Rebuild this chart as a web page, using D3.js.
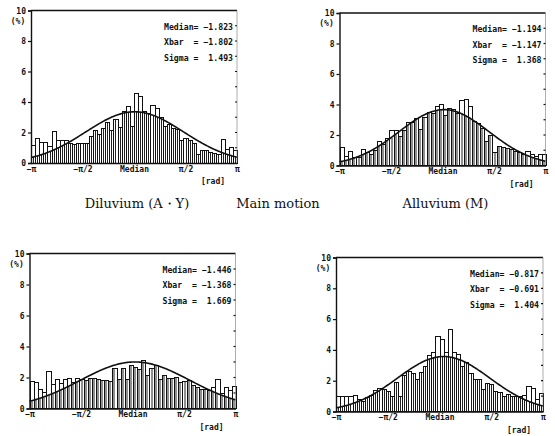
<!DOCTYPE html>
<html>
<head>
<meta charset="utf-8">
<script src="https://cdn.jsdelivr.net/npm/d3@7"></script>
<style>
  html, body { margin: 0; padding: 0; background: #fff; }
  svg { display: block; }
  .tick-label { font-family: "DejaVu Sans Mono", monospace; font-weight: bold; font-size: 8px; fill: #111; }
  .stat { font-family: "DejaVu Sans Mono", monospace; font-weight: bold; font-size: 8.2px; fill: #111; }
  .caption { font-family: "DejaVu Serif", serif; font-size: 13px; fill: #111; }
</style>
</head>
<body>
<svg id="chart" width="555" height="436"></svg>
<script>
// Angular deviation histograms: percentage of samples per bin, 50 bins from -π to π about the median.
const xTickLabels = ["\u2212\u03c0", "\u2212\u03c0/2", "Median", "\u03c0/2", "\u03c0"];
const xTickValues = [-Math.PI, -Math.PI / 2, 0, Math.PI / 2, Math.PI];
const yTickValues = [0, 2, 4, 6, 8, 10];

const diluviumAY = [1.15, 1.6, 1.35, 1.35, 1.1, 2.05, 1.5, 1.45, 1.45, 1.3,
                    1.2, 1.3, 1.3, 1.3, 1.75, 2.15, 1.9, 2.25, 2.65, 2.15,
                    2.85, 2.3, 3.4, 3.7, 2.4, 4.55, 4.35, 3.35, 3.25, 3.8,
                    3.55, 3.0, 2.4, 2.5, 2.25, 2.2, 1.45, 1.6, 1.45, 1.3,
                    0.55, 0.8, 0.85, 0.7, 0.6, 0.55, 1.55, 0.9, 1.0, 0.85];
const alluviumM = [1.15, 0.6, 0.9, 0.55, 0.55, 1.05, 0.85, 0.75, 1.0, 1.6,
                   1.35, 1.8, 2.3, 2.3, 1.9, 2.3, 2.8, 2.85, 3.1, 2.35,
                   3.15, 3.45, 3.4, 3.9, 4.0, 3.3, 3.75, 3.7, 3.4, 4.25,
                   4.35, 3.9, 2.9, 2.75, 2.4, 1.55, 2.0, 0.85, 1.25, 1.2,
                   1.1, 1.05, 0.95, 0.85, 0.7, 0.95, 0.75, 0.6, 0.7, 0.75];
const lowerLeft = [1.75, 1.7, 1.2, 1.05, 2.4, 1.55, 1.9, 1.6, 1.85, 1.95,
                   1.7, 1.95, 1.85, 1.8, 1.95, 1.95, 1.85, 1.8, 1.8, 1.75,
                   2.6, 1.85, 2.6, 1.85, 2.75, 2.65, 2.5, 3.1, 2.1, 2.6,
                   2.8, 1.9, 2.15, 1.95, 1.95, 2.0, 1.65, 1.75, 1.8, 1.5,
                   1.35, 1.25, 1.25, 1.15, 1.35, 1.9, 0.95, 1.35, 1.15, 1.4];
const lowerRight = [1.0, 1.0, 1.0, 0.95, 1.05, 0.75, 0.65, 0.9, 1.05, 1.35,
                    1.5, 1.4, 1.3, 0.95, 1.9, 1.0, 2.35, 2.6, 2.45, 2.1,
                    2.55, 2.9, 3.65, 3.8, 4.85, 4.7, 3.8, 5.35, 3.85, 3.7,
                    2.9, 3.2, 2.45, 2.1, 2.05, 1.4, 1.85, 1.75, 1.3, 1.25,
                    0.95, 1.1, 1.0, 1.0, 1.0, 1.05, 1.65, 1.5, 0.8, 1.2];

const medians = [-1.823, -1.194, -1.446, -0.817];
const xbars   = [-1.802, -1.147, -1.368, -0.691];
const sigmas  = [1.493, 1.368, 1.669, 1.404];
const captions = ["Diluvium (A\u30fbY)", "Alluvium (M)", null, null];
const centerCaption = "Main motion";

const series = [diluviumAY, alluviumM, lowerLeft, lowerRight];

// panel frames (left, top, width, height)
const frames = [
  { x: 31, y: 10.5, w: 206, h: 152.5 },
  { x: 339.5, y: 13, w: 206, h: 152.5 },
  { x: 29.5, y: 253.5, w: 206, h: 155 },
  { x: 336, y: 257.5, w: 207, h: 154 }
];

const svg = d3.select("#chart");
const fmt = d3.format(".3f");

series.forEach((vals, p) => {
  const f = frames[p];
  const g = svg.append("g").attr("transform", `translate(${f.x},${f.y})`);
  const nBins = vals.length;
  const x = d3.scaleLinear().domain([-Math.PI, Math.PI]).range([0, f.w]);
  const y = d3.scaleLinear().domain([0, 10]).range([f.h, 0]);
  const binW = (2 * Math.PI) / nBins;

  // fitted normal curve, in % per bin, from the stated mean offset and sigma
  const mu = xbars[p] - medians[p];
  const sd = sigmas[p];
  const peak = 100 * binW / (sd * Math.sqrt(2 * Math.PI));
  const normal = t => peak * Math.exp(-((t - mu) ** 2) / (2 * sd * sd));

  const bins = vals.map((v, i) => ({ v, x0: -Math.PI + i * binW, x1: -Math.PI + (i + 1) * binW }));

  // hatching inside bars under the curve
  g.append("g").selectAll("line").data(bins).join("line")
    .attr("x1", d => Math.round(x((d.x0 + d.x1) / 2)) + 0.5)
    .attr("x2", d => Math.round(x((d.x0 + d.x1) / 2)) + 0.5)
    .attr("y1", y(0))
    .attr("y2", d => y(Math.min(d.v, normal((d.x0 + d.x1) / 2))))
    .attr("stroke", "#222").attr("stroke-width", 1);

  // bar outlines
  g.append("g").selectAll("rect").data(bins).join("rect")
    .attr("x", d => Math.round(x(d.x0)) + 0.5)
    .attr("width", d => Math.round(x(d.x1)) - Math.round(x(d.x0)))
    .attr("y", d => y(d.v))
    .attr("height", d => y(0) - y(d.v))
    .attr("fill", "none").attr("stroke", "#111").attr("stroke-width", 1)
    .attr("shape-rendering", "crispEdges");

  // curve
  const ts = d3.range(0, 201).map(i => -Math.PI + i * (2 * Math.PI / 200));
  g.append("path")
    .attr("d", d3.line().x(t => x(t)).y(t => y(normal(t))).curve(d3.curveBasis)(ts))
    .attr("fill", "none").attr("stroke", "#111").attr("stroke-width", 1.6);

  // frame
  g.append("line").attr("x1", 0).attr("x2", f.w).attr("y1", 0).attr("y2", 0)
    .attr("stroke", "#111").attr("stroke-width", 1.4);
  g.append("line").attr("x1", f.w).attr("x2", f.w).attr("y1", 0).attr("y2", f.h)
    .attr("stroke", "#777").attr("stroke-width", 0.6);

  // left axis
  const yAxis = d3.axisLeft(y).tickValues(yTickValues).tickSize(3).tickPadding(2)
    .tickFormat(d3.format("d"));
  const ya = g.append("g").call(yAxis);
  ya.select(".domain").attr("stroke", "#111").attr("stroke-width", 1.4);
  ya.selectAll(".tick line").attr("stroke", "#111").attr("stroke-width", 1.2);
  ya.selectAll(".tick text").attr("class", "tick-label").attr("font-size", null).attr("font-family", null);

  // right-side minor ticks
  g.append("g").selectAll("line").data(d3.range(1, 10)).join("line")
    .attr("x1", f.w - 2).attr("x2", f.w)
    .attr("y1", d => y(d)).attr("y2", d => y(d))
    .attr("stroke", "#111").attr("stroke-width", 1.2);

  // bottom axis
  const xAxis = d3.axisBottom(x).tickValues(xTickValues).tickSize(0).tickPadding(3)
    .tickFormat((d, i) => xTickLabels[i]);
  const xa = g.append("g").attr("transform", `translate(0,${f.h})`).call(xAxis);
  xa.select(".domain").attr("stroke", "#111").attr("stroke-width", 1.4);
  xa.selectAll(".tick text").attr("class", "tick-label").attr("font-size", null).attr("font-family", null);

  // unit labels
  g.append("text").attr("class", "tick-label").attr("x", -13).attr("y", 13)
    .attr("text-anchor", "middle").text("(%)");
  g.append("text").attr("class", "tick-label").attr("x", f.w - 24).attr("y", f.h + 21)
    .attr("text-anchor", "middle").text("[rad]");

  // statistics
  const stats = [
    `Median= ${fmt(medians[p])}`,
    `Xbar  = ${fmt(xbars[p])}`,
    `Sigma =  ${fmt(sigmas[p])}`
  ];
  g.append("g").selectAll("text").data(stats).join("text")
    .attr("class", "stat")
    .attr("x", f.w - 4).attr("y", (d, i) => 19 + i * 15.5)
    .attr("text-anchor", "end")
    .attr("xml:space", "preserve")
    .style("white-space", "pre")
    .text(d => d);

  if (captions[p]) {
    svg.append("text").attr("class", "caption")
      .attr("x", f.x + f.w / 2 + 3).attr("y", 208)
      .attr("text-anchor", "middle").text(captions[p]);
  }
});

svg.append("text").attr("class", "caption")
  .attr("x", 278).attr("y", 208).attr("text-anchor", "middle").text(centerCaption);
</script>
</body>
</html>
